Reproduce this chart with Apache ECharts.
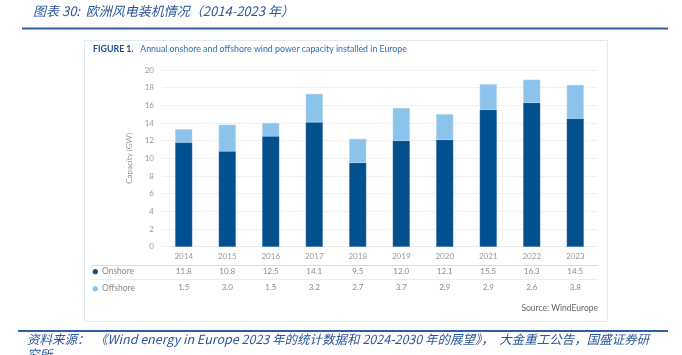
<!DOCTYPE html>
<html><head><meta charset="utf-8">
<script src="https://cdn.jsdelivr.net/npm/echarts@6/dist/echarts.min.js"></script>
<style>html,body{margin:0;padding:0;background:#fff}#c{width:682px;height:355px}</style>
</head><body><div id="c"></div>
<script>
var years = ['2014','2015','2016','2017','2018','2019','2020','2021','2022','2023'];
var onshore = [11.8,10.8,12.5,14.1,9.5,12.0,12.1,15.5,16.3,14.5];
var offshore = [1.5,3.0,1.5,3.2,2.7,3.7,2.9,2.9,2.6,3.8];
var seriesNames = ['Onshore','Offshore'];
var yTicks = {min:0,max:20,interval:2};
var titleText = '图表 30:  欧洲风电装机情况（2014-2023 年）';
var figLabel = 'FIGURE 1.';
var figText = 'Annual onshore and offshore wind power capacity installed in Europe';
var sourceText = 'Source: WindEurope';
var footerLine1 = '资料来源：  《Wind energy in Europe 2023 年的统计数据和 2024-2030 年的展望》，  大金重工公告，国盛证券研';
var footerLine2 = '究所';

var cOn = '#03508f', cOff = '#8cc3eb';
var font = 'Lato, "Noto Sans", sans-serif';
var cjk = '"Noto Sans CJK SC", sans-serif';
var chart = echarts.init(document.getElementById('c'), null, {renderer:'canvas'});
function fmt(v){return v.toFixed(1);}
var labelStyle = {fontFamily:font, fontSize:8, color:'#9a9a9a'};
chart.setOption({
  animation:false,
  grid:{left:162, right:85, top:70, bottom:108.3},
  xAxis:[
    {type:'category', data:years, position:'bottom',
     axisLine:{show:true, lineStyle:{color:'#ececec'}}, axisTick:{show:false},
     axisLabel:Object.assign({margin:6}, labelStyle)},
    {type:'category', data:onshore.map(fmt), position:'bottom', offset:14.5,
     axisLine:{show:false}, axisTick:{show:false},
     axisLabel:Object.assign({margin:6}, labelStyle, {color:'#8a8a8a'})},
    {type:'category', data:offshore.map(fmt), position:'bottom', offset:31,
     axisLine:{show:false}, axisTick:{show:false},
     axisLabel:Object.assign({margin:6}, labelStyle, {color:'#8a8a8a'})}
  ],
  yAxis:{type:'value', min:yTicks.min, max:yTicks.max, interval:yTicks.interval,
    name:'Capacity (GW)', nameLocation:'middle', nameGap:25, nameRotate:90,
    nameTextStyle:{fontFamily:font, fontSize:8, color:'#9a9a9a'},
    axisLine:{show:false}, axisTick:{show:false},
    axisLabel:Object.assign({margin:8}, labelStyle),
    splitLine:{lineStyle:{color:'#f0f0f0'}}},
  series:[
    {name:seriesNames[0], type:'bar', stack:'t', data:onshore, barWidth:17, xAxisIndex:0,
     itemStyle:{color:cOn, borderColor:'#2a6aa3', borderWidth:0.5}},
    {name:seriesNames[1], type:'bar', stack:'t', data:offshore, barWidth:17, xAxisIndex:0,
     itemStyle:{color:cOff, borderColor:'#a9d3f1', borderWidth:0.5}}
  ],
  graphic:[
    {type:'text', left:33, top:5, style:{text:titleText, font:'italic 13px '+cjk, fill:'#2b5797'}},
    {type:'line', shape:{x1:22, y1:28.5, x2:668, y2:28.5}, style:{stroke:'#2f5ea3', lineWidth:2}},
    {type:'rect', shape:{x:84.5, y:40.5, width:523, height:281}, style:{fill:'none', stroke:'#dfeaf6', lineWidth:1}},
    {type:'text', left:93, top:43, style:{rich:{b:{fontFamily:font, fontWeight:'bold', fontSize:8.8, fill:'#1f4e8c'}, r:{fontFamily:font, fontSize:8.8, fill:'#2e6db4'}}, text:'{b|'+figLabel+'}  {r|'+figText+'}'}},
    {type:'line', shape:{x1:91, y1:265.5, x2:598, y2:265.5}, style:{stroke:'#cbe6d4', lineWidth:1}},
    {type:'line', shape:{x1:91, y1:279.5, x2:598, y2:279.5}, style:{stroke:'#e4efe8', lineWidth:1}},
    {type:'text', left:92, top:265, style:{rich:{d:{fontSize:11, fill:cOn, fontFamily:font}, t:{fontFamily:font, fontSize:8.5, fill:'#8a8a8a'}}, text:'{d|●} {t|'+seriesNames[0]+'}'}},
    {type:'text', left:92, top:282, style:{rich:{d:{fontSize:11, fill:cOff, fontFamily:font}, t:{fontFamily:font, fontSize:8.5, fill:'#8a8a8a'}}, text:'{d|●} {t|'+seriesNames[1]+'}'}},
    {type:'text', right:84, top:304, style:{text:sourceText, font:'8.5px '+font, fill:'#666'}},
    {type:'line', shape:{x1:18, y1:331, x2:668, y2:331}, style:{stroke:'#2f5ea3', lineWidth:2}},
    {type:'text', left:27, top:333, style:{text:footerLine1, font:'italic 12.5px '+cjk, fill:'#2b5797'}},
    {type:'text', left:27, top:348, style:{text:footerLine2, font:'italic 12.5px '+cjk, fill:'#2b5797'}}
  ]
});
</script></body></html>
